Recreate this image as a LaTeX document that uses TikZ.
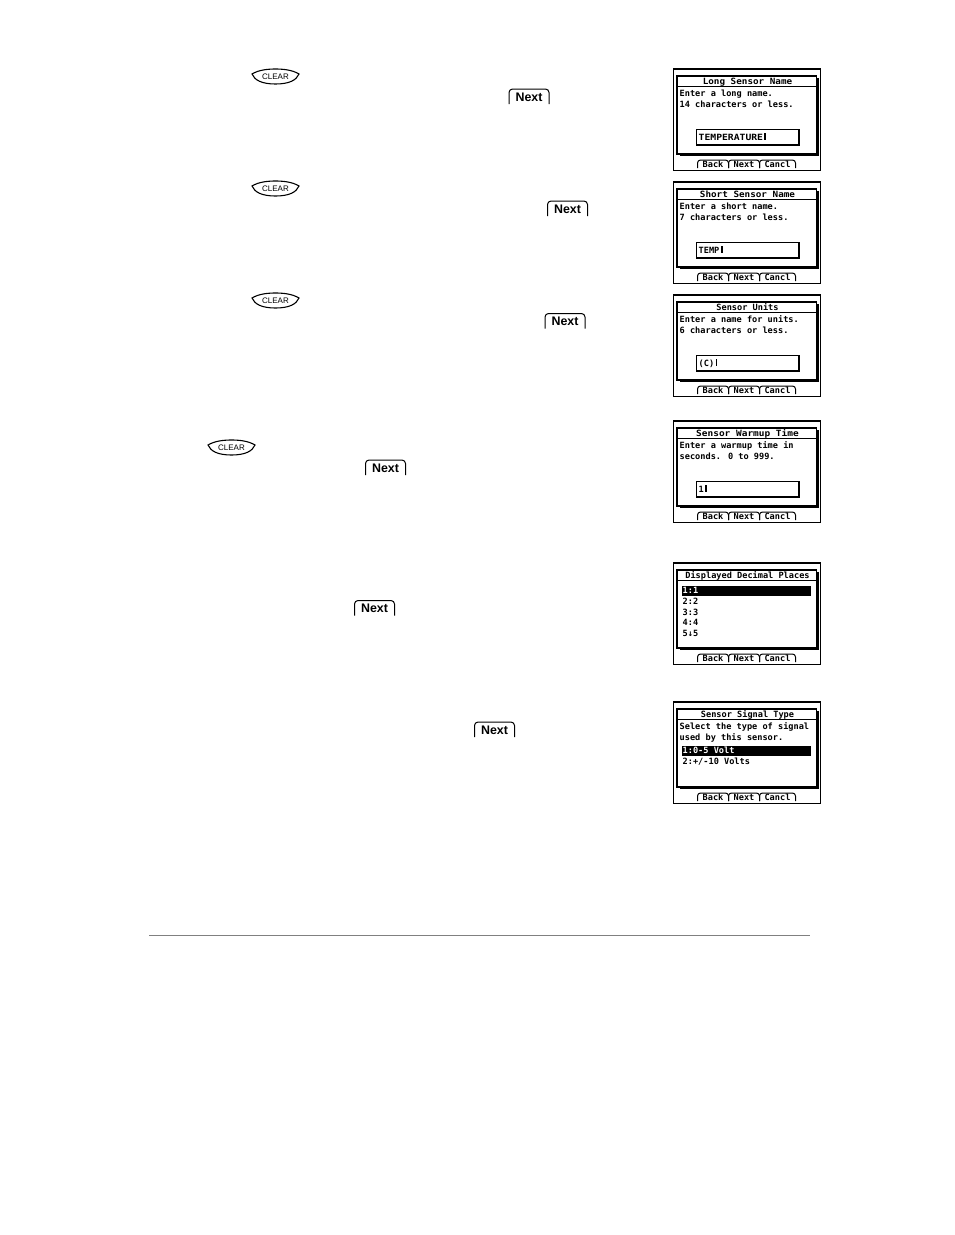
\documentclass[tikz,border=0pt]{standalone}
\usepackage{fontspec}
\setmainfont{Liberation Sans}
\newfontfamily\lcdfont{DejaVu Sans Mono}
\newcommand{\xs}[2]{\scalebox{#1}[1]{#2}}
\tikzset{
  x=1pt,y=-1pt,
  lcdframe/.style={draw=black,line width=1.3pt,fill=white},
  lcdwin/.style={draw=black,line width=1.1pt,fill=white},
  lcdshadow/.style={draw=black,line width=2.4pt},
  lcdtitle/.style={anchor=base,inner sep=0pt,font=\lcdfont\bfseries\fontsize{8.6}{9}\selectfont,text=black},
  lcdtext/.style={anchor=base west,inner sep=0pt,font=\lcdfont\bfseries\fontsize{8.6}{9}\selectfont,text=black},
  lcdinv/.style={lcdtext,text=white},
  lcdkey/.style={anchor=base,inner sep=0pt,font=\lcdfont\bfseries\fontsize{8.6}{9}\selectfont,text=black},
  lcdtab/.style={draw=black,line width=1pt,rounded corners=3pt},
  inputbox/.style={draw=black,line width=1.6pt,fill=white},
  hibar/.style={fill=black,draw=none},
  cursorbar/.style={fill=black,draw=none},
  clearkey/.style={draw=black,line width=1.1pt,fill=white},
  cleartext/.style={inner sep=0pt,font=\fontsize{8}{8}\selectfont},
  nextkey/.style={draw=black,line width=1pt,rounded corners=3.5pt},
  nexttext/.style={inner sep=0pt,font=\bfseries\fontsize{12.4}{13}\selectfont},
  rulegray/.style={draw=black!50,line width=0.8pt},
}
% frame with window, title and soft keys
\newcommand{\lcdbase}[4]{%
  \begin{scope}[shift={(#2,#3)}]
    \draw[lcdframe] (0,0) rectangle (147,101.5);
    \draw[lcdwin] (3.5,7) rectangle (143,85);
    \draw[lcdshadow] (6,86) -- (144,86) -- (144,9);
    \draw[lcdwin] (3.5,17.5) -- (143,17.5);
    \node[lcdtitle] (#1title) at (74,15.5) {#4};
    \draw[lcdtab] (24,99) -- (24,91) -- (55,91) -- (55,99);
    \draw[lcdtab] (55,99) -- (55,91) -- (86,91) -- (86,99);
    \draw[lcdtab] (86,99) -- (86,91) -- (122,91) -- (122,99);
    \node[lcdkey] (#1back) at (39.5,98) {Back};
    \node[lcdkey] (#1next) at (70.5,98) {Next};
    \node[lcdkey] (#1cancl) at (104,98) {Cancl};
  \end{scope}}
% text entry screen
\newcommand{\lcdentry}[7]{%
  \lcdbase{#1}{#2}{#3}{#4}
  \begin{scope}[shift={(#2,#3)}]
    \node[lcdtext] (#1la) at (6,27.5) {#5};
    \node[lcdtext] (#1lb) at (6,38.5) {#6};
    \draw[inputbox] (23,60.5) rectangle (125.5,76);
    \node[lcdtext] (#1in) at (25,71) {#7};
    \fill[cursorbar] ([xshift=1.2pt]#1in.base east) rectangle ++(1.8,-7);
  \end{scope}}
\newcommand{\clearkey}[3]{%
  \begin{scope}[shift={(#2,#3)}]
    \path[clearkey] (-23.5,-2.5) .. controls (-17,-6.5) and (-8,-7.5) .. (0,-7.5)
      .. controls (8,-7.5) and (17,-6.5) .. (23.5,-2.5)
      .. controls (21,3.5) and (14,7.5) .. (0,7.5)
      .. controls (-14,7.5) and (-21,3.5) .. (-23.5,-2.5) -- cycle;
    \node[cleartext] (#1) at (0,0) {CLEAR};
  \end{scope}}
\newcommand{\nextkey}[3]{%
  \begin{scope}[shift={(#2,#3)}]
    \draw[nextkey] (-20,7) -- (-20,-8) -- (20,-8) -- (20,7);
    \node[nexttext] (#1) at (0,0) {Next};
  \end{scope}}
\begin{document}
\begin{tikzpicture}
\useasboundingbox (0,0) rectangle (954,1235);
\fill[white] (0,0) rectangle (954,1235);
\clearkey{ca}{275.5}{76.5}
\clearkey{cb}{275.5}{188.5}
\clearkey{cc}{275.5}{300.5}
\clearkey{cd}{231.5}{447.5}
\nextkey{na}{529}{97}
\nextkey{nb}{567.5}{209}
\nextkey{nc}{565}{321.5}
\nextkey{nd}{385.5}{468}
\nextkey{ne}{374.5}{608.5}
\nextkey{nf}{494.5}{730}
\lcdentry{sa}{673.5}{69}{\xs{1.08}{Long Sensor Name}}{Enter a long name.}{14 characters or less.}{\xs{1.13}{TEMPERATURE}}
\lcdentry{sb}{673.5}{182}{\xs{1.08}{Short Sensor Name}}{Enter a short name.}{7 characters or less.}{TEMP}
\lcdentry{sc}{673.5}{295}{Sensor Units}{Enter a name for units.}{6 characters or less.}{(C)}
\lcdentry{sd}{673.5}{421}{\xs{1.1}{Sensor Warmup Time}}{Enter a warmup time in}{seconds. 0 to 999.}{1}
\lcdbase{se}{673.5}{563}{Displayed Decimal Places}
\begin{scope}[shift={(673.5,563)}]
  \fill[hibar] (8,23) rectangle (137,33);
  \node[lcdinv] (sea) at (9,30) {1:1};
  \node[lcdtext] (seb) at (9,41) {2:2};
  \node[lcdtext] (sec) at (9,52) {3:3};
  \node[lcdtext] (sed) at (9,62.5) {4:4};
  \node[lcdtext] (see) at (9,73.5) {5↓5};
\end{scope}
\lcdbase{sf}{673.5}{702}{Sensor Signal Type}
\begin{scope}[shift={(673.5,702)}]
  \node[lcdtext] (sfa) at (6,27.5) {Select the type of signal};
  \node[lcdtext] (sfb) at (6,38.5) {used by this sensor.};
  \fill[hibar] (8,43.5) rectangle (137,53.5);
  \node[lcdinv] (sfc) at (9,51) {1:0-5 Volt};
  \node[lcdtext] (sfd) at (9,62) {2:+/-10 Volts};
\end{scope}
\draw[rulegray] (149,935) -- (810,935);
\end{tikzpicture}
\end{document}
